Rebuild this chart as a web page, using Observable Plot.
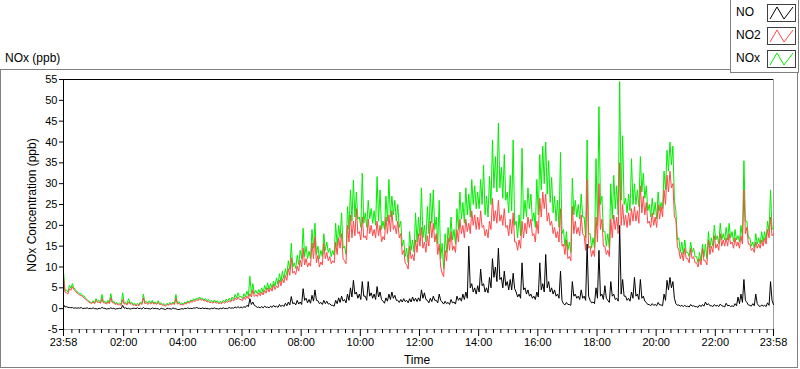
<!DOCTYPE html>
<html><head><meta charset="utf-8">
<script src="https://cdn.jsdelivr.net/npm/d3@7"></script>
<script src="https://cdn.jsdelivr.net/npm/@observablehq/plot@0.6"></script>
<style>
body{margin:0;background:#fff;}
#chart{position:relative;width:800px;height:369px;overflow:hidden;}
</style></head><body><div id="chart"></div>
<script>
// ---- data: readings every 6 minutes from 23:58 to 23:58 next day,
// plus the in-between (3 minutes later) readings, which mostly sit at the dips of the trace ----
const seriesNames = ["NO", "NO2", "NOx"];
const seriesColors = ["#000000", "#ff4848", "#00ee00"];
const startTime = Date.UTC(2013, 0, 1, 23, 58);
const stepMinutes = 6;
const yTicks = [-5, 0, 5, 10, 15, 20, 25, 30, 35, 40, 45, 50, 55];
const majorTickLabels = ["23:58", "02:00", "04:00", "06:00", "08:00", "10:00", "12:00", "14:00", "16:00", "18:00", "20:00", "22:00", "23:58"];
const chartTitle = "NOx (ppb)";
const yLabel = "NOx Concentration (ppb)";
const xLabel = "Time";

const no = [
  1.0, 0.5, 0.3, 0.3, 0.2, 0.2, 0.3, 0.1, 0.2, 0.1,
  0.2, 0.0, 0.1, 0.3, 0.1, 0.0, 0.2, 0.1, 0.0, 0.1,
  0.8, 0.2, 0.1, 0.0, 0.1, 0.2, 0.1, 0.3, 0.1, 0.0,
  0.2, 0.1, 0.0, 0.1, -0.1, 0.1, 0.0, 0.2, 0.0, -0.2,
  0.0, 0.1, 0.2, 0.1, 0.2, 0.3, 0.1, 0.2, 0.1, 0.0,
  0.1, 0.2, 0.0, 0.1, 0.2, 0.1, 0.3, 0.2, 0.4, 0.5,
  0.4, 0.5, 0.8, 2.4, 1.6, 0.6, 0.4, 0.5, 0.6, 0.4,
  0.6, 0.8, 0.6, 1.0, 0.9, 1.3, 1.6, 2.9, 1.4, 2.0,
  1.6, 4.8, 2.5, 2.2, 3.2, 4.5, 1.9, 1.5, 2.0, 1.8,
  1.2, 0.8, 2.0, 2.6, 3.0, 2.2, 3.5, 5.0, 6.8, 4.0,
  3.5, 6.5, 3.0, 6.5, 3.8, 3.5, 5.3, 4.0, 1.8, 2.6,
  3.5, 4.0, 3.2, 2.0, 2.2, 2.4, 2.0, 2.4, 2.8, 2.5,
  2.6, 4.5, 3.8, 2.0, 2.5, 3.0, 2.0, 3.5, 1.6, 1.8,
  1.5, 2.2, 1.6, 3.0, 2.6, 3.5, 4.0, 15.0, 6.0, 5.0,
  5.5, 9.5, 6.0, 5.0, 7.5, 12.0, 10.0, 14.5, 7.5, 9.0,
  6.5, 7.0, 8.5, 4.0, 3.5, 11.0, 5.0, 4.5, 3.5, 3.0,
  4.0, 11.0, 6.0, 13.0, 6.5, 5.0, 4.5, 3.5, 9.0, 1.2,
  1.5, 1.0, 6.5, 3.5, 3.0, 4.5, 3.0, 15.5, 2.0, 1.6,
  5.0, 14.0, 3.5, 5.5, 2.0, 6.5, 3.5, 2.5, 20.0, 7.0,
  3.0, 2.5, 4.0, 7.5, 3.5, 7.0, 3.0, 1.5, 1.0, 1.2,
  1.0, 1.5, 0.9, 3.5, 6.8, 7.5, 6.5, 1.2, 0.9, 0.8,
  0.8, 0.6, 1.0, 0.7, 0.5, 0.9, 1.0, 1.6, 1.2, 0.7,
  1.0, 0.8, 1.1, 0.6, 1.3, 0.8, 0.7, 1.2, 2.8, 3.5,
  7.0, 1.5, 0.8, 1.2, 3.5, 0.7, 0.9, 0.8, 1.4, 6.5, 1.0
];
const noMid = [
  0.4, 0.3, 0.2, 0.1, 0.1, 0.1, 0.0, 0.1, 0.0, 0.0,
  0.0, -0.1, 0.0, 0.1, -0.1, 0.0, 0.0, -0.1, 0.0, 0.0,
  0.1, 0.0, -0.1, 0.1, 0.0, 0.0, -0.1, 0.0, 0.0, -0.1,
  0.0, 0.0, -0.2, 0.0, -0.2, 0.0, -0.1, 0.0, -0.2, -0.1,
  -0.1, 0.0, 0.0, 0.0, 0.1, 0.1, 0.0, 0.0, 0.0, -0.1,
  0.0, 0.0, -0.1, 0.0, 0.0, 0.0, 0.1, 0.1, 0.2, 0.2,
  0.2, 0.3, 0.5, 1.0, 0.8, 0.3, 0.2, 0.2, 0.3, 0.2,
  0.3, 0.4, 0.3, 0.5, 0.5, 0.7, 0.9, 1.2, 0.9, 1.1,
  1.0, 2.0, 1.4, 1.3, 1.8, 2.0, 1.2, 1.0, 1.2, 1.1,
  0.8, 0.6, 1.2, 1.5, 1.8, 1.4, 2.0, 2.8, 3.5, 2.5,
  2.2, 3.0, 2.0, 3.0, 2.5, 2.2, 2.8, 2.2, 1.3, 1.8,
  2.2, 2.5, 2.0, 1.5, 1.6, 1.7, 1.4, 1.6, 1.8, 1.7,
  1.8, 2.5, 2.2, 1.4, 1.7, 2.0, 1.4, 2.0, 1.1, 1.2,
  1.0, 1.4, 1.1, 2.0, 1.8, 2.2, 2.5, 5.0, 4.0, 3.5,
  4.0, 5.5, 4.0, 3.8, 5.0, 7.5, 6.5, 7.0, 5.0, 5.5,
  4.5, 4.5, 4.8, 2.8, 2.5, 4.5, 3.5, 3.0, 2.5, 2.2,
  2.8, 4.5, 4.0, 5.0, 4.0, 3.5, 3.0, 2.5, 2.0, 0.9,
  1.0, 0.8, 3.0, 2.5, 2.2, 2.5, 2.0, 3.0, 1.4, 1.2,
  2.5, 3.0, 2.2, 2.5, 1.5, 3.0, 2.2, 1.8, 3.5, 3.0,
  2.0, 1.8, 2.5, 3.0, 2.2, 2.5, 1.8, 1.0, 0.7, 0.8,
  0.7, 0.9, 0.7, 2.0, 4.5, 5.0, 2.5, 0.8, 0.6, 0.5,
  0.5, 0.4, 0.6, 0.5, 0.3, 0.5, 0.6, 0.9, 0.7, 0.5,
  0.6, 0.5, 0.7, 0.4, 0.7, 0.5, 0.5, 0.7, 1.2, 1.5,
  2.0, 0.9, 0.6, 0.7, 1.2, 0.5, 0.6, 0.5, 0.8, 2.0
];
const no2 = [
  7.5, 3.8, 4.8, 5.3, 4.3, 3.6, 3.2, 2.6, 2.0, 1.4,
  1.6, 2.0, 1.6, 2.4, 1.4, 1.6, 2.6, 1.4, 1.2, 1.0,
  2.2, 1.2, 1.6, 1.2, 1.0, 0.9, 1.3, 2.6, 1.4, 1.4,
  1.6, 1.3, 1.5, 1.1, 0.9, 1.0, 1.2, 1.3, 2.5, 1.3,
  1.0, 1.3, 1.6, 1.8, 2.0, 2.2, 2.4, 2.2, 2.0, 1.8,
  1.6, 1.7, 1.5, 1.4, 1.6, 1.8, 1.9, 2.2, 2.6, 2.8,
  2.2, 2.8, 3.0, 3.6, 4.5, 3.4, 3.8, 4.0, 4.4, 5.0,
  5.0, 5.8, 5.5, 6.8, 7.2, 8.0, 9.6, 12.2, 9.0, 10.2,
  11.7, 14.5, 12.0, 11.0, 15.8, 17.3, 12.8, 11.2, 15.7, 13.5,
  12.5, 11.5, 16.0, 17.0, 18.0, 11.5, 20.0, 22.5, 21.0, 24.0,
  18.5, 22.0, 17.5, 21.5, 20.0, 19.0, 21.0, 20.0, 17.3, 22.0,
  22.5, 23.5, 20.0, 21.0, 18.0, 14.0, 10.5, 15.0, 13.0, 16.5,
  18.0, 19.5, 16.0, 17.5, 21.0, 20.5, 18.0, 15.5, 8.5, 14.0,
  17.0, 18.5, 15.0, 19.0, 21.5, 20.0, 21.5, 20.5, 23.5, 22.5,
  22.0, 23.5, 20.0, 19.0, 21.0, 26.5, 23.5, 26.0, 22.5, 24.0,
  20.0, 21.5, 23.0, 16.0, 16.5, 21.0, 20.5, 22.0, 21.5, 18.0,
  21.0, 26.5, 28.0, 27.5, 23.0, 21.0, 19.5, 18.5, 24.0, 15.5,
  16.5, 12.5, 24.5, 21.0, 19.5, 22.5, 17.5, 31.0, 15.0, 14.0,
  22.0, 30.0, 21.5, 15.0, 14.0, 21.5, 22.5, 22.0, 35.0, 25.0,
  22.5, 23.0, 24.0, 24.5, 23.5, 29.5, 27.0, 25.5, 21.0, 23.0,
  22.0, 25.0, 24.5, 28.5, 32.0, 33.0, 30.0, 21.5, 14.0, 13.5,
  14.5, 12.0, 14.5, 12.5, 11.0, 12.0, 14.5, 11.5, 16.5, 15.0,
  17.5, 15.5, 18.0, 16.5, 17.0, 18.0, 16.0, 17.0, 16.0, 17.5,
  28.5, 19.5, 15.5, 14.5, 16.0, 15.5, 16.5, 17.0, 19.0, 22.0, 18.0
];
const no2Mid = [
  4.0, 3.5, 4.4, 4.6, 3.8, 3.2, 2.8, 2.2, 1.6, 1.2,
  1.2, 1.5, 1.3, 1.4, 1.1, 1.2, 1.4, 1.0, 0.9, 0.8,
  1.1, 0.9, 1.1, 0.8, 0.7, 0.7, 1.0, 1.2, 1.0, 1.1,
  1.1, 1.0, 1.0, 0.8, 0.6, 0.8, 0.9, 1.0, 1.1, 0.9,
  0.9, 1.1, 1.3, 1.5, 1.7, 1.9, 2.0, 1.8, 1.6, 1.4,
  1.3, 1.3, 1.2, 1.2, 1.3, 1.5, 1.6, 1.8, 2.1, 2.2,
  1.9, 2.2, 2.4, 2.8, 2.9, 2.9, 3.1, 3.3, 3.7, 4.0,
  4.2, 4.6, 5.0, 5.5, 6.2, 6.8, 8.0, 8.5, 8.2, 9.0,
  10.0, 10.5, 10.0, 10.2, 12.0, 11.0, 10.0, 10.5, 12.0, 11.5,
  10.8, 11.0, 13.0, 14.5, 12.0, 10.8, 16.0, 17.0, 17.5, 18.0,
  16.5, 17.0, 16.5, 18.0, 17.5, 17.0, 17.5, 16.0, 16.5, 18.0,
  18.5, 19.0, 18.0, 17.0, 13.0, 11.0, 9.5, 12.0, 11.5, 13.5,
  15.0, 14.5, 13.5, 15.0, 17.0, 16.0, 13.0, 10.0, 7.7, 11.5,
  14.0, 14.0, 13.5, 16.0, 18.0, 17.0, 18.5, 18.0, 20.0, 19.0,
  19.0, 19.5, 17.5, 17.0, 19.0, 21.0, 20.5, 21.0, 20.0, 19.5,
  17.5, 18.0, 16.0, 14.0, 14.5, 17.0, 18.0, 19.5, 17.5, 16.0,
  18.0, 22.0, 24.0, 21.0, 20.0, 18.0, 17.0, 16.0, 15.0, 13.0,
  12.0, 11.5, 18.0, 18.0, 17.5, 18.0, 14.0, 14.5, 12.5, 12.5,
  16.0, 19.0, 15.0, 13.0, 12.5, 17.0, 19.0, 18.0, 20.0, 20.0,
  19.5, 20.0, 21.0, 21.0, 20.5, 23.0, 22.5, 20.5, 19.5, 20.0,
  19.5, 21.5, 22.0, 25.0, 28.0, 29.0, 22.0, 15.0, 12.0, 11.5,
  12.0, 11.0, 12.0, 11.0, 10.0, 10.5, 11.5, 10.5, 13.0, 13.5,
  14.5, 14.0, 15.0, 15.0, 15.0, 15.5, 14.5, 15.0, 14.5, 15.5,
  18.0, 15.5, 14.0, 13.5, 14.5, 14.5, 15.0, 15.5, 17.0, 17.5
];
const nox = [
  8.9, 4.5, 5.6, 6.0, 4.6, 3.9, 3.6, 3.0, 2.2, 1.6,
  1.9, 2.4, 2.0, 3.4, 1.8, 2.0, 3.6, 1.8, 1.5, 1.4,
  3.8, 1.5, 2.4, 1.6, 1.3, 1.3, 1.6, 3.5, 1.8, 1.9,
  2.0, 1.6, 1.9, 1.4, 1.2, 1.3, 1.5, 1.6, 3.4, 1.7,
  1.4, 1.6, 1.9, 2.1, 2.4, 2.6, 2.8, 2.5, 2.4, 2.2,
  2.0, 2.1, 1.9, 1.8, 2.0, 2.3, 2.5, 2.8, 3.4, 3.8,
  3.0, 3.6, 4.2, 7.8, 6.0, 4.4, 4.6, 5.0, 5.6, 6.2,
  6.0, 6.6, 7.4, 8.4, 9.0, 9.6, 11.5, 15.7, 11.0, 12.8,
  14.0, 19.3, 15.0, 13.8, 19.0, 20.5, 15.0, 14.0, 18.0, 16.0,
  14.5, 14.0, 20.5, 20.0, 23.0, 15.0, 24.5, 28.5, 30.9, 28.0,
  22.0, 32.5, 23.0, 26.0, 24.0, 23.5, 31.7, 28.5, 21.0, 27.0,
  31.0, 27.0, 26.0, 25.0, 21.0, 16.5, 14.5, 18.5, 16.5, 23.0,
  22.0, 29.0, 20.0, 24.5, 27.7, 28.5, 22.0, 26.0, 15.7, 18.0,
  19.5, 22.0, 19.0, 24.0, 28.0, 25.5, 29.0, 27.5, 31.0, 29.5,
  28.0, 31.0, 34.5, 27.0, 31.7, 40.5, 36.5, 44.5, 34.0, 37.0,
  28.0, 32.0, 40.5, 21.0, 22.5, 38.5, 26.0, 29.0, 27.5, 23.0,
  31.0, 37.0, 39.0, 40.0, 35.5, 31.5, 27.0, 26.0, 37.5, 19.0,
  18.5, 16.0, 31.3, 26.0, 25.0, 27.5, 22.0, 40.5, 18.0, 17.0,
  36.0, 48.5, 27.0, 18.5, 18.0, 30.0, 32.0, 29.5, 54.5, 41.5,
  26.5, 27.5, 36.0, 30.0, 28.5, 36.5, 32.5, 29.5, 25.0, 26.5,
  25.5, 28.0, 25.5, 33.0, 38.0, 40.0, 39.0, 23.5, 17.0, 16.0,
  16.5, 13.5, 16.0, 14.5, 12.5, 13.5, 15.5, 15.5, 18.5, 17.0,
  20.0, 17.5, 20.5, 18.0, 19.5, 20.5, 18.5, 19.0, 17.5, 20.0,
  35.5, 21.0, 17.0, 16.0, 18.0, 17.0, 18.5, 18.5, 21.0, 28.5, 19.5
];
const noxMid = [
  4.4, 4.0, 4.9, 5.0, 4.1, 3.5, 3.1, 2.4, 1.8, 1.4,
  1.4, 1.7, 1.5, 1.6, 1.3, 1.4, 1.6, 1.2, 1.1, 1.0,
  1.3, 1.1, 1.3, 1.0, 0.9, 0.9, 1.2, 1.5, 1.3, 1.3,
  1.3, 1.2, 1.2, 1.0, 0.8, 1.0, 1.1, 1.2, 1.3, 1.1,
  1.1, 1.3, 1.5, 1.8, 2.0, 2.2, 2.3, 2.1, 1.9, 1.7,
  1.5, 1.6, 1.4, 1.4, 1.6, 1.8, 1.9, 2.2, 2.6, 2.8,
  2.4, 2.8, 3.0, 3.6, 3.6, 3.6, 3.7, 3.9, 4.4, 4.6,
  4.9, 5.4, 5.8, 6.4, 7.2, 8.0, 9.4, 10.0, 9.6, 10.6,
  12.0, 12.5, 12.0, 12.0, 14.5, 13.0, 12.0, 12.5, 14.0, 13.5,
  12.5, 12.8, 15.0, 17.0, 14.5, 13.0, 19.0, 21.0, 22.0, 21.5,
  19.5, 20.5, 19.5, 21.5, 20.5, 20.0, 21.0, 19.0, 19.0, 21.0,
  22.0, 22.5, 21.0, 19.5, 15.0, 12.5, 11.0, 14.0, 13.5, 16.0,
  17.5, 17.0, 16.0, 18.0, 20.5, 19.0, 15.5, 12.0, 9.5, 13.5,
  16.0, 16.5, 15.5, 19.0, 21.5, 20.5, 22.5, 22.0, 25.0, 24.0,
  24.0, 25.0, 22.5, 22.0, 25.0, 29.0, 28.0, 29.0, 26.5, 26.0,
  23.0, 23.5, 20.0, 17.0, 17.5, 21.5, 22.0, 24.0, 21.0, 19.5,
  22.5, 28.5, 30.0, 27.5, 25.5, 23.0, 21.0, 19.5, 18.0, 15.0,
  14.0, 13.5, 22.5, 22.0, 21.5, 22.0, 17.0, 18.0, 14.5, 14.5,
  20.0, 25.0, 18.5, 15.0, 14.5, 21.5, 24.0, 22.5, 26.0, 25.0,
  23.0, 23.5, 25.0, 25.0, 24.5, 28.0, 26.5, 23.5, 22.0, 22.5,
  21.5, 23.5, 24.0, 28.5, 33.0, 34.5, 26.0, 16.5, 13.5, 13.0,
  13.5, 12.5, 13.5, 12.5, 11.0, 11.5, 12.5, 12.0, 14.5, 15.0,
  16.5, 15.5, 16.5, 16.5, 16.5, 17.0, 16.0, 16.5, 16.0, 17.0,
  21.0, 17.0, 15.0, 14.5, 15.5, 15.5, 16.0, 16.5, 18.5, 19.0
];

// ---- build tables ----
const seriesMain = [no, no2, nox];
const seriesMid = [noMid, no2Mid, noxMid];
const stepMs = stepMinutes * 60000;
const endTime = startTime + 24 * 3600 * 1000;
const tables = seriesMain.map((vals, s) => {
  const rows = [];
  vals.forEach((v, i) => {
    rows.push({t: new Date(startTime + i * stepMs), v});
    if (i < seriesMid[s].length) rows.push({t: new Date(startTime + i * stepMs + stepMs / 2), v: seriesMid[s][i]});
  });
  return rows;
});
const start = new Date(startTime), end = new Date(endTime);
const majorTimes = majorTickLabels.map((lab, i) => {
  if (i === 0) return start;
  if (i === majorTickLabels.length - 1) return end;
  const [h, m] = lab.split(":").map(Number);
  return new Date(Date.UTC(2013, 0, 2, h, m));
});
const labelMap = new Map(majorTimes.map((d, i) => [+d, majorTickLabels[i]]));
const minorTimes = d3.utcMinute.every(15).range(start, end).filter(d => (d.getUTCHours() * 60 + d.getUTCMinutes()) % 120 !== 0);

const font = "'Liberation Sans', Arial, sans-serif";
const lineMarks = [2, 1, 0].map(i => Plot.line(tables[i], {x: "t", y: "v", stroke: seriesColors[i], strokeWidth: 1}));

const svg = Plot.plot({
  width: 800, height: 369,
  marginLeft: 63, marginRight: 27, marginTop: 79, marginBottom: 40,
  style: {fontFamily: font, fontSize: "11px", background: "white", color: "#000"},
  x: {type: "utc", domain: [start, end]},
  y: {domain: [-5, 55]},
  marks: [
    Plot.ruleY([-5], {stroke: "#a0a0a0"}),
    Plot.ruleX([end], {stroke: "#a0a0a0"}),
    ...lineMarks,
    Plot.ruleY([55], {stroke: "#000"}),
    Plot.ruleX([start], {stroke: "#000"}),
    Plot.axisY({ticks: yTicks, tickSize: 4, tickPadding: 2, label: null, tickFormat: d => String(d)}),
    Plot.axisX({ticks: minorTimes, tickSize: 4, label: null, tickFormat: () => ""}),
    Plot.axisX({ticks: majorTimes, tickSize: 7, tickPadding: 2, label: null, tickFormat: d => labelMap.get(+d)})
  ]
});

const s = d3.select(svg);
const addText = (sel, x, y, txt, anchor) => sel.append("text").attr("x", x).attr("y", y)
  .attr("text-anchor", anchor).attr("dominant-baseline", "middle")
  .attr("font-size", 12).attr("font-family", font).attr("fill", "#000").text(txt);
// outer frame
s.insert("rect", ":first-child").attr("x", 0.5).attr("y", 69.5).attr("width", 797).attr("height", 298)
  .attr("fill", "none").attr("stroke", "#808080");
// title
addText(s, 5, 59, chartTitle, "start");
// axis labels
addText(s, 0, 0, yLabel, "middle").attr("transform", "translate(33,205) rotate(-90)");
addText(s, 417, 361, xLabel, "middle");
// legend
const lg = s.append("g");
lg.append("rect").attr("x", 730.5).attr("y", -0.5).attr("width", 68).attr("height", 73)
  .attr("fill", "white").attr("stroke", "#808080");
seriesNames.forEach((name, i) => {
  const cy = 13 + i * 23;
  addText(lg, 736, cy, name, "start");
  lg.append("rect").attr("x", 767.5).attr("y", cy - 8.5).attr("width", 28).attr("height", 17)
    .attr("fill", "white").attr("stroke", "#404040");
  lg.append("path").attr("d", `M770,${cy + 6}L777,${cy - 6}L784,${cy + 6}L793,${cy - 6}`)
    .attr("fill", "none").attr("stroke", seriesColors[i]).attr("stroke-width", 1);
});
document.getElementById("chart").appendChild(svg);
</script></body></html>
